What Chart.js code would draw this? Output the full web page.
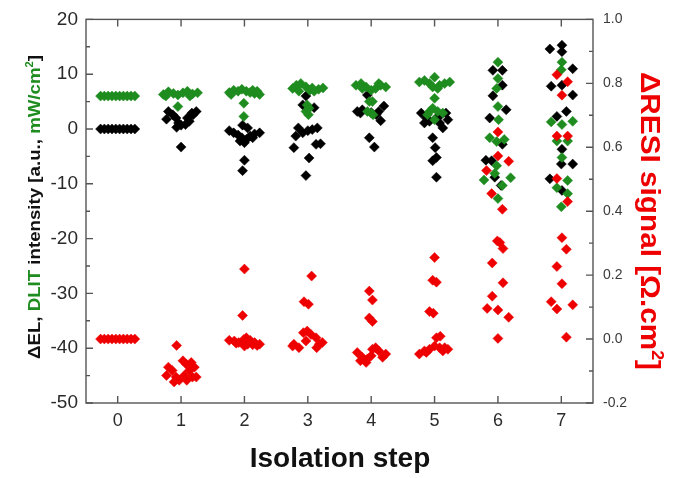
<!DOCTYPE html>
<html>
<head>
<meta charset="utf-8">
<script src="https://cdn.jsdelivr.net/npm/chart.js@4.4.1/dist/chart.umd.min.js"></script>
<style>
html, body { margin: 0; padding: 0; background: #fff; }
</style>
</head>
<body>
<canvas id="chart" width="684" height="478"></canvas>
<script>
// Categories and tick labels
const steps = [0, 1, 2, 3, 4, 5, 6, 7];
const leftTicks = [-50, -40, -30, -20, -10, 0, 10, 20];
const rightTicks = [-0.2, 0, 0.2, 0.4, 0.6, 0.8, 1.0];

// [step position (jittered), value]
const elPoints = [
    [-0.27, 0], [-0.21, 0], [-0.15, 0], [-0.09, 0], [-0.03, 0], [0.03, 0], [0.09, 0], [0.15, 0], [0.21, 0], [0.27, 0],
    [0.8, 3.2], [0.77, 1.8], [0.87, 2.6], [0.92, 2.0], [0.96, 1.1], [0.93, 0.3], [1.0, 0.7], [1.07, 0.8], [1.13, 1.4],
    [1.19, 2.6], [1.24, 3.2], [1.17, 2.9], [1.1, 2.0], [1.0, -3.3],
    [1.76, -0.3], [1.83, -0.7], [1.9, -1.1], [1.96, -1.6], [2.03, -1.9], [2.09, -1.3], [2.16, -0.9], [2.24, -0.7],
    [1.97, 0.7], [2.05, 0.2], [1.93, -2.2], [2.0, -2.5], [2.13, -1.6], [2.0, -5.7], [1.97, -7.6],
    [2.97, 6.0], [2.92, 4.4], [3.1, 3.9], [2.85, 0.2], [2.92, -0.7], [3.0, -0.3], [3.07, -0.1], [3.15, 0.2],
    [2.81, -1.3], [2.78, -3.4], [3.13, -2.8], [3.2, -2.7], [3.02, -5.3], [2.97, -8.5],
    [3.94, 6.2], [3.78, 3.2], [3.86, 3.5], [3.83, 2.9], [4.12, 3.2], [4.2, 4.2], [4.15, 1.5], [4.0, 3.0], [4.08, 2.6],
    [3.97, -1.6], [4.05, -3.3],
    [4.79, 2.9], [4.87, 2.0], [4.92, 1.4], [4.84, 1.1], [5.03, 2.0], [5.1, 2.6], [5.18, 2.9], [5.21, 1.7], [5.08, 1.1],
    [5.13, 0.2], [4.97, -1.6], [5.01, -3.4], [5.03, -5.2], [4.97, -5.8], [5.03, -8.8],
    [5.92, 10.7], [6.07, 10.7], [6.07, 8.0], [5.92, 6.05], [6.13, 3.5], [5.87, 2.0], [6.07, -2.8], [5.81, -5.7],
    [5.9, -5.8], [5.95, -8.8], [6.05, -10.3],
    [6.82, 14.6], [7.01, 15.3], [7.01, 14.1], [7.18, 11.0], [6.84, 7.8], [7.01, 8.0], [7.18, 6.2], [7.08, 3.2],
    [6.93, 2.3], [7.01, -3.7], [7.0, -6.4], [7.18, -6.4], [6.82, -9.1], [7.01, -11.2]
];

const dlitPoints = [
    [-0.27, 6], [-0.21, 6], [-0.15, 6], [-0.09, 6], [-0.03, 6], [0.03, 6], [0.09, 6], [0.15, 6], [0.21, 6], [0.27, 6],
    [0.72, 6.3], [0.8, 6.8], [0.88, 6.5], [0.95, 6.2], [1.03, 6.6], [1.1, 6.9], [1.18, 6.4], [1.26, 6.6], [0.76, 6.0],
    [1.14, 6.0], [0.95, 4.1],
    [1.76, 6.66], [1.83, 7.07], [1.9, 6.9], [1.96, 7.25], [2.03, 6.9], [2.09, 6.66], [2.16, 6.48], [2.24, 6.3],
    [1.79, 6.3], [2.13, 7.07], [2.2, 6.9], [1.99, 4.7], [1.99, 2.3],
    [2.76, 7.4], [2.82, 8.0], [2.89, 8.3], [2.97, 7.7], [3.03, 7.07], [3.1, 6.9], [3.17, 7.25], [3.24, 7.5],
    [2.86, 6.9], [3.07, 7.5], [2.99, 4.4], [3.01, 2.6], [2.97, 3.2], [3.02, 3.8],
    [3.76, 7.97], [3.84, 8.3], [3.92, 7.67], [4.0, 7.07], [4.07, 7.4], [4.15, 7.97], [4.23, 7.67], [3.86, 7.4],
    [4.12, 8.3], [3.97, 5.0], [4.02, 5.0], [4.0, 2.9], [4.03, 2.6], [3.94, 3.2],
    [4.76, 8.56], [4.84, 8.87], [4.92, 8.3], [5.0, 9.46], [5.08, 7.97], [5.16, 8.3], [5.24, 8.56], [4.97, 7.67],
    [5.05, 7.4], [5.0, 5.6], [4.97, 3.8], [5.05, 3.2], [4.92, 3.2], [5.0, 1.7], [4.89, 2.6], [5.13, 2.9],
    [6.0, 12.2], [6.0, 9.2], [5.98, 7.4], [6.0, 4.1], [6.01, 1.7], [5.87, -1.6], [6.1, -1.9], [5.98, -2.3],
    [5.98, -6.7], [5.78, -9.3], [5.95, -8.1], [6.2, -8.9], [6.07, -10.3], [6.0, -12.7],
    [7.01, 12.2], [7.0, 10.8], [6.84, 1.3], [7.18, 1.4], [7.01, 0.8], [6.93, -2.2], [7.1, -2.2], [7.01, -5.2],
    [7.1, -9.4], [6.93, -10.7], [7.1, -11.8], [7.0, -14.2]
];

const resiPoints = [
    [-0.27, 0], [-0.21, 0], [-0.15, 0], [-0.09, 0], [-0.03, 0], [0.03, 0], [0.09, 0], [0.15, 0], [0.21, 0], [0.27, 0],
    [0.93, -0.02], [0.8, -0.088], [0.77, -0.114], [0.86, -0.098], [0.92, -0.119], [0.97, -0.129], [1.03, -0.068],
    [1.08, -0.078], [1.16, -0.073], [1.21, -0.088], [1.13, -0.098], [1.05, -0.114], [1.18, -0.119], [1.24, -0.119],
    [0.89, -0.134], [1.09, -0.129],
    [2.0, 0.219], [1.97, 0.074], [1.76, -0.004], [1.84, -0.006], [1.91, -0.011], [1.99, -0.001], [2.03, 0.004],
    [2.09, -0.004], [2.16, -0.011], [2.24, -0.016], [1.87, -0.013], [2.05, -0.016], [2.13, -0.018], [2.2, -0.02], [2.0, -0.022],
    [3.06, 0.197], [2.94, 0.117], [3.01, 0.109], [2.93, 0.02], [2.99, 0.025], [3.05, 0.014], [3.13, 0.004],
    [2.78, -0.016], [2.86, -0.027], [2.76, -0.022], [3.18, -0.016], [3.23, -0.011], [3.14, -0.027], [2.97, -0.006],
    [3.97, 0.15], [4.02, 0.122], [3.97, 0.066], [4.02, 0.055], [3.78, -0.042], [3.86, -0.057], [3.92, -0.073],
    [4.0, -0.052], [4.07, -0.027], [4.12, -0.037], [4.18, -0.057], [4.23, -0.047], [3.83, -0.068], [4.02, -0.032], [3.94, -0.062],
    [5.0, 0.255], [4.97, 0.184], [5.03, 0.178], [4.92, 0.086], [4.98, 0.081], [5.03, 0.004], [5.09, 0.009],
    [4.76, -0.047], [4.84, -0.037], [4.92, -0.032], [5.0, -0.022], [5.08, -0.027], [5.16, -0.027], [5.21, -0.032],
    [4.87, -0.042], [5.13, -0.037],
    [6.0, 0.648], [6.0, 0.573], [6.17, 0.556], [5.82, 0.527], [5.9, 0.455], [6.07, 0.406], [5.99, 0.307],
    [6.03, 0.302], [6.08, 0.283], [5.91, 0.238], [6.08, 0.176], [5.91, 0.134], [5.83, 0.096], [6.0, 0.091],
    [6.17, 0.068], [6.0, 0.002],
    [6.93, 0.827], [7.1, 0.805], [7.01, 0.763], [6.93, 0.635], [7.1, 0.635], [6.93, 0.502], [7.1, 0.43],
    [7.01, 0.317], [7.08, 0.281], [6.93, 0.227], [7.01, 0.173], [6.84, 0.117], [6.93, 0.094], [7.18, 0.107], [7.08, 0.006]
];

const BLACK = '#000000';
const GREEN = '#1e8c1e';
const RED = '#ee0000';
const FONT = '"Liberation Sans", Arial, sans-serif';

const toXY = arr => arr.map(([x, y]) => ({ x, y }));

function diamonds(label, points, color, axis) {
    return {
        label: label,
        data: toXY(points),
        yAxisID: axis,
        pointStyle: 'rectRot',
        pointRadius: 5,
        pointHoverRadius: 5,
        backgroundColor: color,
        borderColor: color,
        borderWidth: 0.5,
        showLine: false
    };
}

// multicoloured, optionally stretched axis title (drawn in rotated coords)
function drawRich(ctx, parts, size, len) {
    const font = s => `bold ${s}px ${FONT}`;
    let total = 0;
    const widths = parts.map(p => {
        ctx.font = font(p.sup ? size * 0.6 : size);
        const w = ctx.measureText(p.t).width;
        total += w;
        return w;
    });
    ctx.scale(len / total, 1);
    let x = -total / 2;
    parts.forEach((p, i) => {
        ctx.font = font(p.sup ? size * 0.6 : size);
        ctx.fillStyle = p.c;
        ctx.fillText(p.t, x, p.sup ? -size * 0.42 : 0);
        x += widths[i];
    });
}

const leftTitle = [
    { t: 'ΔEL, ', c: '#111' },
    { t: 'DLIT', c: GREEN },
    { t: ' intensity [a.u., ', c: '#111' },
    { t: 'mW/cm', c: GREEN },
    { t: '2', c: GREEN, sup: true },
    { t: ']', c: '#111' }
];
const rightTitle = [
    { t: 'ΔRESI signal [Ω.cm', c: RED },
    { t: '2', c: RED, sup: true },
    { t: ']', c: RED }
];

const frame = {
    id: 'frame',
    beforeDatasetsDraw(chart) {
        const { ctx, chartArea: a, scales } = chart;
        ctx.save();
        ctx.strokeStyle = '#555';
        ctx.lineWidth = 1.4;
        ctx.strokeRect(a.left, a.top, a.right - a.left, a.bottom - a.top);
        ctx.beginPath();
        steps.forEach(s => {
            const x = scales.x.getPixelForValue(s);
            ctx.moveTo(x, a.bottom); ctx.lineTo(x, a.bottom - 7);
            ctx.moveTo(x, a.top); ctx.lineTo(x, a.top + 7);
        });
        const side = (scale, ticks, x, dir) => {
            ticks.forEach((v, i) => {
                const y = scale.getPixelForValue(v);
                ctx.moveTo(x, y); ctx.lineTo(x + dir * 7, y);
                if (i < ticks.length - 1) {
                    const m = scale.getPixelForValue((v + ticks[i + 1]) / 2);
                    ctx.moveTo(x, m); ctx.lineTo(x + dir * 4, m);
                }
            });
        };
        side(scales.y, leftTicks, a.left, 1);
        side(scales.y1, rightTicks, a.right, -1);
        ctx.stroke();
        ctx.restore();
    },
    afterDraw(chart) {
        const ctx = chart.ctx;
        ctx.save();
        ctx.textBaseline = 'alphabetic';
        ctx.textAlign = 'left';
        ctx.translate(40, 207);
        ctx.rotate(-Math.PI / 2);
        drawRich(ctx, leftTitle, 17, 304);
        ctx.restore();

        ctx.save();
        ctx.textBaseline = 'alphabetic';
        ctx.textAlign = 'left';
        ctx.translate(641, 221);
        ctx.rotate(Math.PI / 2);
        drawRich(ctx, rightTitle, 27, 298);
        ctx.restore();

        ctx.save();
        ctx.font = `bold 28px ${FONT}`;
        ctx.fillStyle = '#111';
        ctx.textAlign = 'center';
        ctx.textBaseline = 'alphabetic';
        ctx.fillText('Isolation step', 340, 467);
        ctx.restore();
    }
};

new Chart(document.getElementById('chart'), {
    type: 'scatter',
    data: {
        datasets: [
            diamonds('ΔRESI', resiPoints, RED, 'y1'),
            diamonds('DLIT', dlitPoints, GREEN, 'y'),
            diamonds('ΔEL', elPoints, BLACK, 'y')
        ]
    },
    options: {
        responsive: false,
        animation: false,
        layout: { padding: { top: 13, left: 0, right: 0, bottom: 0 } },
        plugins: { legend: { display: false }, tooltip: { enabled: false } },
        scales: {
            x: {
                type: 'linear',
                min: -0.5,
                max: 7.5,
                afterBuildTicks: s => { s.ticks = steps.map(v => ({ value: v })); },
                afterFit: s => { s.height = 75; },
                grid: { display: false, drawTicks: false },
                border: { display: false },
                ticks: { padding: 7, color: '#2a2a2a', font: { family: FONT, size: 18 } }
            },
            y: {
                position: 'left',
                min: -50,
                max: 20,
                afterBuildTicks: s => { s.ticks = leftTicks.map(v => ({ value: v })); },
                afterFit: s => { s.width = 86; },
                grid: { display: false, drawTicks: false },
                border: { display: false },
                ticks: { padding: 8, color: '#2a2a2a', font: { family: FONT, size: 19 } }
            },
            y1: {
                position: 'right',
                min: -0.2,
                max: 1.0,
                afterBuildTicks: s => { s.ticks = rightTicks.map(v => ({ value: v })); },
                afterFit: s => { s.width = 91; },
                grid: { display: false, drawTicks: false },
                border: { display: false },
                ticks: {
                    padding: 10,
                    color: '#3a3a3a',
                    font: { family: FONT, size: 14 },
                    callback: v => Number(v).toFixed(1)
                }
            }
        }
    },
    plugins: [frame]
});
</script>
</body>
</html>
